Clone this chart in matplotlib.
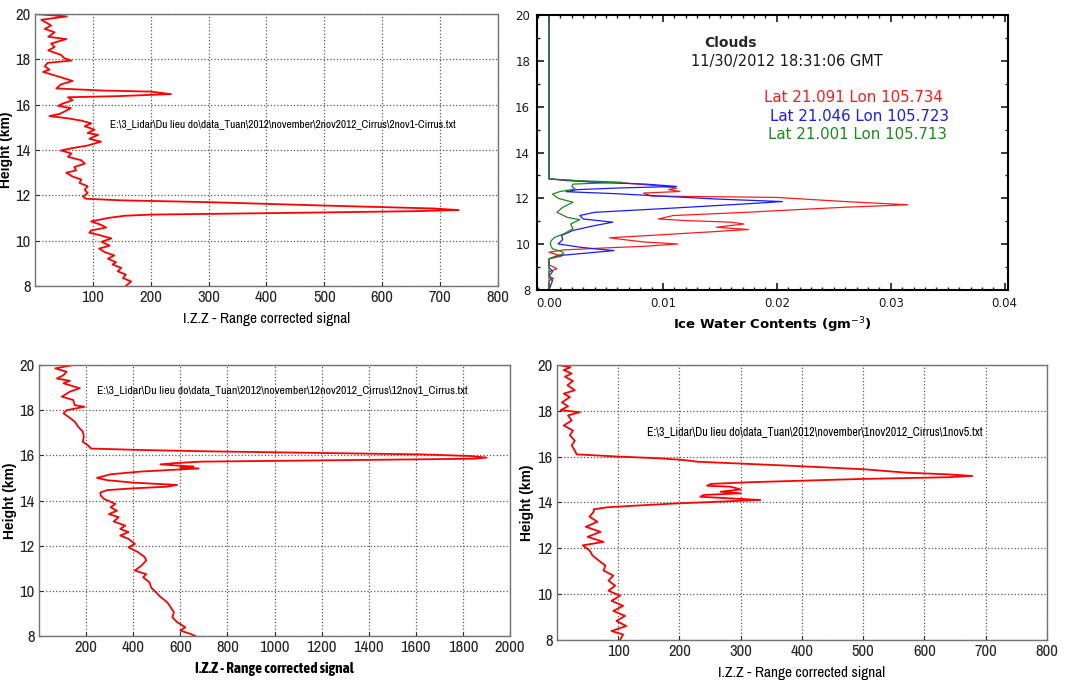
import matplotlib
matplotlib.use('Agg')
import matplotlib.pyplot as plt
from matplotlib.ticker import MultipleLocator, FormatStrFormatter

# --- lidar profile 2 Nov 2012 (top left) ---
h1 = [20.0, 19.9, 19.75, 19.5, 19.35, 19.2, 19.0, 18.9, 18.7, 18.55, 18.4, 18.2, 18.05, 17.95,
      17.85, 17.7, 17.55, 17.45, 17.25, 17.05, 16.9, 16.72, 16.63, 16.58, 16.47, 16.38, 16.33,
      16.2, 16.05, 15.95, 15.85, 15.7, 15.6, 15.5, 15.4, 15.3, 15.18, 15.05, 14.9, 14.75, 14.67,
      14.5, 14.37, 14.2, 14.08, 13.98, 13.85, 13.7, 13.55, 13.4, 13.25, 13.1, 13.0, 12.83, 12.7,
      12.55, 12.4, 12.25, 12.1, 11.95, 11.85, 11.78, 11.7, 11.55, 11.42, 11.35, 11.3, 11.22,
      11.15, 11.1, 11.0, 10.85, 10.7, 10.58, 10.45, 10.35, 10.25, 10.1, 9.95, 9.78, 9.65, 9.5,
      9.35, 9.2, 9.05, 8.95, 8.8, 8.65, 8.5, 8.35, 8.2, 8.0]
v1 = [3, 55, 11, 28, 17, 34, 23, 54, 28, 34, 23, 45, 51, 63, 22, 17, 25, 14, 40, 65, 45, 37,
      114, 200, 235, 143, 57, 65, 48, 40, 62, 51, 43, 25, 57, 80, 97, 86, 103, 91, 109, 94, 114,
      91, 63, 45, 63, 57, 80, 86, 68, 71, 54, 65, 80, 77, 91, 86, 91, 83, 88, 150, 300, 500, 690,
      732, 650, 420, 200, 155, 126, 97, 114, 123, 97, 94, 111, 132, 115, 129, 111, 120, 137, 126,
      140, 134, 149, 143, 157, 152, 166, 157]

# --- ice water content profiles (top right) ---
h_red = [20.0, 12.85, 12.77, 12.67, 12.55, 12.45, 12.38, 12.3, 12.23, 12.1, 12.04, 11.95, 11.86,
         11.72, 11.61, 11.5, 11.39, 11.25, 11.1, 11.03, 10.96, 10.88, 10.74, 10.64, 10.52, 10.38,
         10.28, 10.16, 10.09, 10.01, 9.91, 9.84, 9.75, 9.65, 9.48, 9.36, 9.1, 8.93, 8.8, 8.6,
         8.5, 8.4, 8.0]
iwc_red = [0, 0, 0.0016, 0.0067, 0.0095, 0.0112, 0.0105, 0.0115, 0.0083, 0.0090, 0.0200,
           0.0230, 0.0260, 0.0315, 0.0259, 0.0215, 0.0173, 0.0109, 0.0096, 0.0120, 0.0160,
           0.0171, 0.0147, 0.0175, 0.0136, 0.0088, 0.0053, 0.0072, 0.0085, 0.0113, 0.0085,
           0.0051, 0.0013, 0.0, 0.0011, 0.0, 0.0, 0.0007, 0.0, 0.0, 0.0004, 0.0, 0.0]
h_blue = [20.0, 12.85, 12.7, 12.62, 12.52, 12.45, 12.38, 12.29, 12.2, 12.09, 11.97, 11.86, 11.75,
          11.57, 11.39, 11.25, 11.1, 10.96, 10.81, 10.6, 10.38, 10.2, 10.01, 9.87, 9.8, 9.72,
          9.62, 9.5, 9.36, 9.0, 8.8, 8.6, 8.4, 8.0]
iwc_blue = [0, 0, 0.0040, 0.0085, 0.0112, 0.0060, 0.0025, 0.0015, 0.0060, 0.0101, 0.0147,
            0.0205, 0.0170, 0.0107, 0.0040, 0.0027, 0.0030, 0.0056, 0.0040, 0.0021, 0.0011,
            0.0012, 0.0008, 0.0027, 0.0040, 0.0057, 0.0035, 0.0008, 0.0, 0.0, 0.0003, 0.0,
            0.0003, 0.0]
h_green = [20.0, 12.85, 12.77, 12.7, 12.66, 12.62, 12.52, 12.41, 12.3, 12.19, 12.0, 11.83, 11.61,
           11.39, 11.17, 11.07, 10.88, 10.67, 10.45, 10.3, 10.16, 10.01, 9.8, 9.68, 9.58, 9.48,
           9.36, 8.0]
iwc_green = [0, 0, 0.0027, 0.0064, 0.0040, 0.0021, 0.0020, 0.0023, 0.0010, 0.0003, 0.0008,
             0.0021, 0.0012, 0.0007, 0.0016, 0.0027, 0.0019, 0.0021, 0.0013, 0.0005, 0.0002,
             0.0001, 0.0003, 0.0011, 0.0013, 0.0006, 0.0, 0.0]
site_labels = ['Lat 21.091 Lon 105.734', 'Lat 21.046 Lon 105.723', 'Lat 21.001 Lon 105.713']

# --- lidar profile 12 Nov 2012 (bottom left) ---
h3 = [20.0, 19.85, 19.7, 19.55, 19.4, 19.3, 19.19, 18.97, 18.82, 18.6, 18.45, 18.22, 18.15, 18.0,
      17.86, 17.71, 17.49, 17.27, 17.05, 16.83, 16.6, 16.45, 16.3, 16.24, 16.18, 16.04, 15.97,
      15.9, 15.85, 15.79, 15.72, 15.65, 15.6, 15.5, 15.46, 15.42, 15.28, 15.16, 15.0, 14.9,
      14.79, 14.69, 14.61, 14.54, 14.46, 14.35, 14.22, 14.07, 13.85, 13.7, 13.55, 13.4, 13.26,
      13.07, 12.89, 12.74, 12.6, 12.45, 12.3, 12.08, 11.93, 11.71, 11.49, 11.34, 11.12, 10.9,
      10.74, 10.6, 10.38, 10.15, 9.93, 9.71, 9.49, 9.27, 9.05, 8.83, 8.61, 8.39, 8.24, 8.1, 8.0]
v3 = [145, 69, 117, 104, 76, 131, 104, 173, 131, 97, 145, 152, 193, 117, 104, 124, 152, 166,
      186, 190, 186, 207, 221, 420, 700, 1630, 1830, 1900, 1844, 1321, 685, 571, 515, 656, 600,
      678, 430, 303, 246, 289, 402, 586, 543, 402, 289, 260, 262, 276, 324, 304, 331, 297, 338,
      317, 366, 345, 380, 345, 380, 407, 380, 421, 449, 455, 435, 407, 455, 442, 469, 476, 497,
      518, 545, 559, 573, 566, 587, 621, 600, 642, 663]

# --- lidar profile 1 Nov 2012 (bottom right) ---
h4 = [20.0, 19.9, 19.78, 19.63, 19.49, 19.3, 19.12, 18.9, 18.75, 18.6, 18.37, 18.2, 18.03, 17.94,
      17.8, 17.58, 17.36, 17.14, 16.93, 16.7, 16.49, 16.27, 16.1, 16.0, 15.93, 15.85, 15.78,
      15.59, 15.45, 15.3, 15.23, 15.16, 15.1, 15.03, 14.88, 14.81, 14.73, 14.69, 14.57, 14.47,
      14.4, 14.33, 14.25, 14.18, 14.11, 13.96, 13.85, 13.79, 13.7, 13.6, 13.38, 13.16, 12.94,
      12.72, 12.5, 12.28, 12.13, 11.91, 11.69, 11.47, 11.25, 11.03, 10.81, 10.59, 10.37, 10.15,
      9.93, 9.71, 9.49, 9.27, 9.05, 8.83, 8.61, 8.39, 8.24, 8.0]
v4 = [3, 22, 11, 24, 13, 26, 17, 29, 11, 21, 8, 18, 6, 37, 18, 24, 11, 26, 21, 29, 24, 29, 32,
      103, 166, 208, 229, 392, 501, 571, 637, 678, 637, 501, 310, 251, 245, 283, 300, 267, 300,
      240, 234, 283, 332, 196, 120, 82, 60, 60, 53, 66, 47, 71, 50, 76, 42, 53, 58, 68, 79, 76,
      92, 84, 95, 84, 103, 89, 108, 92, 111, 97, 113, 89, 108, 103]

files = [r'E:\3_Lidar\Du lieu do\data_Tuan\2012\november\2nov2012_Cirrus\2nov1-Cirrus.txt',
         r'E:\3_Lidar\Du lieu do\data_Tuan\2012\november\12nov2012_Cirrus\12nov1_Cirrus.txt',
         r'E:\3_Lidar\Du lieu do\data_Tuan\2012\november\1nov2012_Cirrus\1nov5.txt']

NARROW = ['Archivo Narrow', 'DejaVu Sans']
NARROW_BOLD = ['Asap Condensed', 'DejaVu Sans']
ARIAL = ['Liberation Sans', 'DejaVu Sans']


def matlab_axes(ax, xmax, step, xlab, bold_xlabel=False):
    ax.set_xlim(0, xmax)
    ax.set_ylim(8, 20)
    ax.set_xticks(range(step, xmax + 1, step))
    ax.set_yticks(range(8, 21, 2))
    ax.grid(True, linestyle=':', color='0.35', linewidth=0.9)
    ax.tick_params(direction='in', length=3, labelsize=12, colors='0.15', pad=3)
    for t in ax.get_xticklabels() + ax.get_yticklabels():
        t.set_fontfamily(NARROW)
    for sp in ax.spines.values():
        sp.set_color('0.45')
        sp.set_linewidth(1.0)
    ax.set_ylabel('Height (km)', fontsize=10, fontweight='bold', family=ARIAL)
    ax.yaxis.set_label_coords(-0.047, 0.5)
    if bold_xlabel:
        ax.set_xlabel(xlab, fontsize=11, family=NARROW_BOLD, fontweight='bold')
    else:
        ax.set_xlabel(xlab, fontsize=11, family=NARROW)
    ax.xaxis.set_label_coords(0.5, -0.095)


fig = plt.figure(figsize=(10.72, 6.83), dpi=100)

# top left
ax1 = fig.add_axes([0.0326, 0.5813, 0.432, 0.398])
ax1.plot(v1, h1, color='red', lw=1.3)
matlab_axes(ax1, 800, 100, 'I.Z.Z - Range corrected signal')
ax1.text(130, 15.15, files[0], fontsize=8.2, family=NARROW, va='center')

# top right
ax2 = fig.add_axes([0.501, 0.5754, 0.4394, 0.4026])
ax2.plot(iwc_red, h_red, color='#ff1a1a', lw=0.9)
ax2.plot(iwc_blue, h_blue, color='#1a1aff', lw=0.9)
ax2.plot(iwc_green, h_green, color='#1a8a1a', lw=0.9)
ax2.set_xlim(-0.00105, 0.0403)
ax2.set_ylim(8, 20)
ax2.xaxis.set_major_locator(MultipleLocator(0.01))
ax2.xaxis.set_minor_locator(MultipleLocator(0.001))
ax2.xaxis.set_major_formatter(FormatStrFormatter('%.2f'))
ax2.yaxis.set_major_locator(MultipleLocator(2))
ax2.yaxis.set_minor_locator(MultipleLocator(1))
ax2.tick_params(which='both', direction='in', top=True, right=True, colors='0.1',
                labelsize=8.5, pad=5)
ax2.tick_params(which='major', length=5, width=1.2)
ax2.tick_params(which='minor', length=2.5, width=1.0)
for sp in ax2.spines.values():
    sp.set_linewidth(1.5)
ax2.set_xlabel('Ice Water Contents (gm$^{-3}$)', fontsize=9.5, fontweight='bold', labelpad=4)
ax2.text(0.41, 0.9, 'Clouds', transform=ax2.transAxes, ha='center', va='center',
         fontsize=10, fontweight='bold', color='0.15')
ax2.text(0.53, 0.83, '11/30/2012 18:31:06 GMT', transform=ax2.transAxes, ha='center',
         va='center', fontsize=10.5, color='0.1')
for lab, col, xx, yy in zip(site_labels, ['#ff1a1a', '#1a1aff', '#1a8a1a'],
                            [0.671, 0.685, 0.68], [0.70, 0.63, 0.565]):
    ax2.text(xx, yy, lab, transform=ax2.transAxes, ha='center', va='center', fontsize=10.8,
             color=col)

# bottom left
ax3 = fig.add_axes([0.0364, 0.0688, 0.4394, 0.3968])
ax3.plot(v3, h3, color='red', lw=1.3)
matlab_axes(ax3, 2000, 200, 'I.Z.Z - Range corrected signal', bold_xlabel=True)
ax3.text(246, 18.9, files[1], fontsize=8.4, family=NARROW, va='center')

# bottom right
ax4 = fig.add_axes([0.5196, 0.063, 0.457, 0.4026])
ax4.plot(v4, h4, color='red', lw=1.3)
matlab_axes(ax4, 800, 100, 'I.Z.Z - Range corrected signal')
ax4.text(147, 17.08, files[2], fontsize=8.6, family=NARROW, va='center')

fig.savefig('out.png', dpi=100)
